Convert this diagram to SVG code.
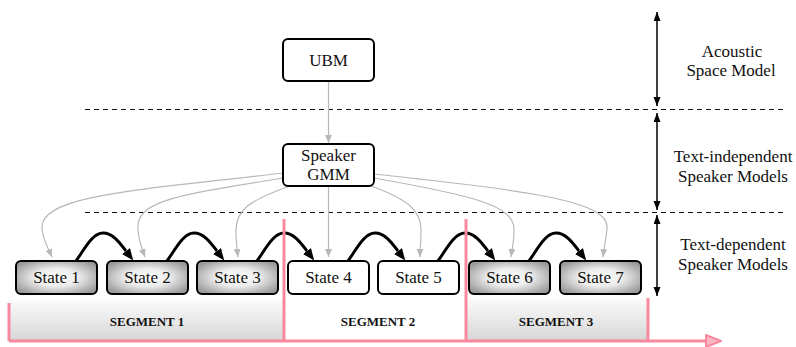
<svg xmlns="http://www.w3.org/2000/svg" width="796" height="347" viewBox="0 0 796 347">
<defs>
<style>
.box{stroke:#000;stroke-width:2}
.plain{fill:#fff}
.shaded{fill:url(#stateGrad)}
.t{font-family:'Liberation Serif','DejaVu Serif',serif;font-size:17px;fill:#111;text-anchor:middle}
.seg{font-family:'Liberation Serif','DejaVu Serif',serif;font-size:13px;font-weight:bold;fill:#111;text-anchor:middle}
.gray{fill:none;stroke:#b8b8b8;stroke-width:1.2;marker-end:url(#grayArrow)}
.trans{fill:none;stroke:#000;stroke-width:3;marker-end:url(#blackArrow)}
.dash{stroke:#111;stroke-width:1.2;stroke-dasharray:5 4;fill:none}
.dim{stroke:#000;stroke-width:1.5;marker-start:url(#dimArrow);marker-end:url(#dimArrow)}
.pink{stroke:#f7889d;stroke-width:3;fill:none}
.segbg{fill:url(#segGrad)}
</style>
<radialGradient id="stateGrad" cx="50%" cy="50%" r="60%">
<stop offset="0" stop-color="#ffffff"/>
<stop offset="0.45" stop-color="#ececec"/>
<stop offset="1" stop-color="#9a9a9a"/>
</radialGradient>
<linearGradient id="segGrad" x1="0" y1="0" x2="0" y2="1">
<stop offset="0" stop-color="#fbfbfb"/>
<stop offset="1" stop-color="#d6d6d6"/>
</linearGradient>
<marker id="grayArrow" markerUnits="userSpaceOnUse" markerWidth="10" markerHeight="10" refX="8" refY="3.5" orient="auto">
<path d="M0,0 L8,3.5 L0,7 z" fill="#b8b8b8"/>
</marker>
<marker id="blackArrow" markerUnits="userSpaceOnUse" markerWidth="14" markerHeight="12" refX="0" refY="5" orient="auto">
<path d="M0,0 L12,5 L0,10 z" fill="#000"/>
</marker>
<marker id="dimArrow" markerUnits="userSpaceOnUse" markerWidth="10" markerHeight="10" refX="9" refY="3.5" orient="auto-start-reverse">
<path d="M0,0 L9,3.5 L0,7 z" fill="#000"/>
</marker>
</defs>
<rect width="796" height="347" fill="#fff"/>

<g id="segments">
<rect class="segbg" x="9" y="300" width="275" height="41"/>
<rect class="segbg" x="466" y="298" width="182" height="43"/>
<text class="seg" x="147" y="326">SEGMENT 1</text>
<text class="seg" x="378" y="326">SEGMENT 2</text>
<text class="seg" x="556" y="326">SEGMENT 3</text>
</g>

<g id="guides">
<line class="dash" x1="85" y1="109.5" x2="785" y2="109.5"/>
<line class="dash" x1="85" y1="212.5" x2="785" y2="212.5"/>
<line class="dim" x1="657" y1="12" x2="657" y2="106"/>
<line class="dim" x1="657" y1="113" x2="657" y2="210"/>
<line class="dim" x1="657" y1="215" x2="657" y2="296"/>
<text class="t" x="732" y="57">Acoustic</text>
<text class="t" x="731" y="76">Space Model</text>
<text class="t" x="733" y="162">Text-independent</text>
<text class="t" x="733" y="182">Speaker Models</text>
<text class="t" x="733" y="250">Text-dependent</text>
<text class="t" x="733" y="270">Speaker Models</text>
</g>

<g id="connectors">
<path class="gray" d="M328.5,81 L328.5,143"/>
<path class="gray" d="M283,173 C140,190 40,195 42,228 C43,240 48,248 52,257"/>
<path class="gray" d="M283,178 C180,195 135,200 138,230 C139,242 142,249 145,257"/>
<path class="gray" d="M290,186 C250,200 235,210 236,232 C236,242 237,249 238,257"/>
<path class="gray" d="M328.5,186 L328.5,257"/>
<path class="gray" d="M371,186 C410,200 422,212 421,232 C421,242 420,249 420,257"/>
<path class="gray" d="M374,178 C470,195 515,205 514,230 C514,242 512,249 511,257"/>
<path class="gray" d="M374,174 C520,190 610,200 607,228 C606,240 604,248 603,257"/>
<path class="trans" d="M76,261 C84,250 92,233 103,233 C113,233 120,243 126,251"/>
<path class="trans" d="M167,261 C175,250 183,233 194,233 C204,233 211,243 217,251"/>
<path class="trans" d="M257,261 C265,250 273,233 284,233 C294,233 301,243 307,251"/>
<path class="trans" d="M348,261 C356,250 364,233 375,233 C385,233 392,243 398,251"/>
<path class="trans" d="M438,261 C446,250 454,233 465,233 C475,233 482,243 488,251"/>
<path class="trans" d="M529,261 C537,250 545,233 556,233 C566,233 573,243 579,251"/>
</g>

<g id="axis">
<line class="pink" x1="9" y1="303" x2="9" y2="341"/>
<line class="pink" x1="284" y1="219" x2="284" y2="341"/>
<line class="pink" x1="466" y1="219" x2="466" y2="341"/>
<line class="pink" x1="648" y1="298" x2="648" y2="341"/>
<line class="pink" x1="9" y1="341" x2="707" y2="341"/>
<path d="M706,335 L721,341 L706,347 z" fill="#f7889d" fill-opacity="0.6" stroke="#f7889d" stroke-width="2" stroke-linejoin="round"/>
</g>

<g id="ubm">
<rect class="box plain" x="283" y="39" width="91" height="42" rx="5"/>
<text class="t" x="328.5" y="66">UBM</text>
</g>
<g id="gmm">
<rect class="box plain" x="283" y="144" width="91" height="42" rx="5"/>
<text class="t" x="328.5" y="161">Speaker</text>
<text class="t" x="328.5" y="180">GMM</text>
</g>
<g id="state1"><rect class="box shaded" x="16" y="261" width="81" height="33" rx="5"/><text class="t" x="56.5" y="283">State 1</text></g>
<g id="state2"><rect class="box shaded" x="107" y="261" width="81" height="33" rx="5"/><text class="t" x="147.5" y="283">State 2</text></g>
<g id="state3"><rect class="box shaded" x="197" y="261" width="81" height="33" rx="5"/><text class="t" x="237.5" y="283">State 3</text></g>
<g id="state4"><rect class="box plain" x="288" y="261" width="81" height="33" rx="5"/><text class="t" x="328.5" y="283">State 4</text></g>
<g id="state5"><rect class="box plain" x="378" y="261" width="81" height="33" rx="5"/><text class="t" x="418.5" y="283">State 5</text></g>
<g id="state6"><rect class="box shaded" x="469" y="261" width="81" height="33" rx="5"/><text class="t" x="509.5" y="283">State 6</text></g>
<g id="state7"><rect class="box shaded" x="560" y="261" width="81" height="33" rx="5"/><text class="t" x="600.5" y="283">State 7</text></g>
</svg>
